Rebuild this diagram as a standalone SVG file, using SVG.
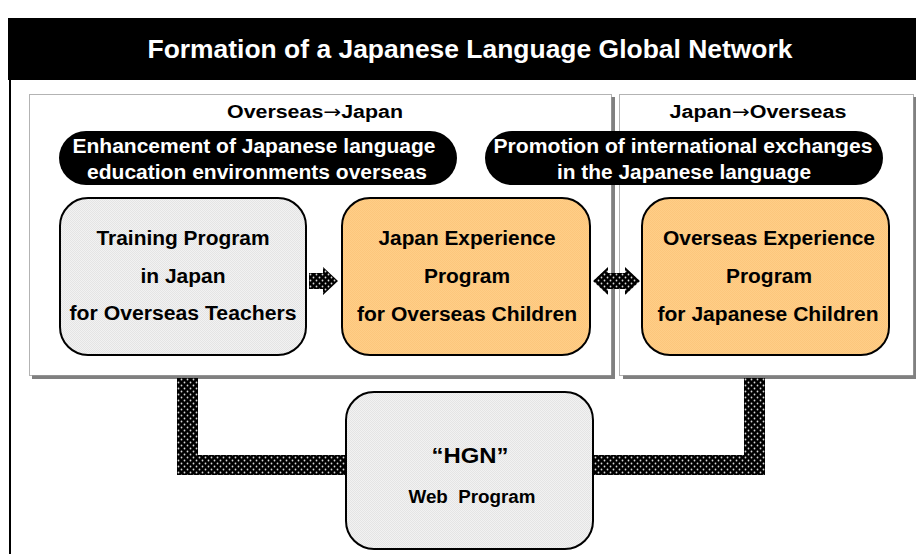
<svg xmlns="http://www.w3.org/2000/svg" width="916" height="554" viewBox="0 0 916 554">
<defs>
<pattern id="dots" width="6" height="6" patternUnits="userSpaceOnUse">
<rect width="6" height="6" fill="#000"/>
<circle cx="1.5" cy="1.5" r="0.9" fill="#d8d8d8"/>
<circle cx="4.5" cy="4.5" r="0.9" fill="#d8d8d8"/>
</pattern>
<pattern id="grayfill" width="2" height="2" patternUnits="userSpaceOnUse">
<rect width="2" height="2" fill="#f2f2f2"/>
<rect width="1" height="1" fill="#e4e4e4"/>
<rect x="1" y="1" width="1" height="1" fill="#e4e4e4"/>
</pattern>
<pattern id="orangefill" width="2" height="2" patternUnits="userSpaceOnUse">
<rect width="2" height="2" fill="#ffce87"/>
<rect width="1" height="1" fill="#fcc67c"/>
<rect x="1" y="1" width="1" height="1" fill="#fcc67c"/>
</pattern>
</defs>
<style>
text{font-family:"Liberation Sans",Arial,sans-serif;font-weight:bold;text-anchor:middle}
.arr{font-family:"DejaVu Sans",sans-serif;font-weight:normal}
.title{font-size:26px;fill:#fff}
.head{font-size:18px;fill:#000}
.pill{font-size:20px;fill:#fff}
.box{font-size:20px;fill:#000}
.panel{fill:#fff;stroke:#666;stroke-width:1;stroke-dasharray:1 1}
.shadow{fill:#808080}
.gray{fill:url(#grayfill);stroke:#000;stroke-width:2}
.orange{fill:url(#orangefill);stroke:#000;stroke-width:2}
.pat{fill:url(#dots)}
</style>
<rect width="916" height="554" fill="#fff"/>
<g id="frame">
<rect x="8" y="18" width="908" height="62" fill="#000"/>
<rect x="9" y="80" width="2" height="474" fill="#000"/>
<text class="title" x="470" y="58" textLength="645" lengthAdjust="spacingAndGlyphs">Formation of a Japanese Language Global Network</text>
</g>
<g id="panel-left">
<rect class="shadow" x="32" y="97" width="583" height="282"/>
<rect class="panel" x="29.5" y="94.5" width="582" height="281"/>
<text class="head" x="315" y="118" textLength="176" lengthAdjust="spacingAndGlyphs">Overseas<tspan class="arr">→</tspan>Japan</text>
</g>
<g id="panel-right">
<rect class="shadow" x="623" y="97" width="293" height="282"/>
<rect class="panel" x="619.5" y="94.5" width="294" height="281"/>
<text class="head" x="758" y="118" textLength="177" lengthAdjust="spacingAndGlyphs">Japan<tspan class="arr">→</tspan>Overseas</text>
</g>
<g id="connectors">
<rect class="pat" x="177" y="378" width="21" height="97"/>
<rect class="pat" x="177" y="455" width="170" height="20"/>
<rect class="pat" x="744" y="378" width="21" height="97"/>
<rect class="pat" x="592" y="455" width="173" height="20"/>
<path class="pat" d="M309,273 H323 V267 L338,281 L323,295 V289 H309 Z"/>
<path class="pat" d="M593,281 L608,267 V273 H625 V267 L640,281 L625,295 V289 H608 V295 Z"/>
</g>
<g id="pill-enhancement">
<rect x="59" y="131" width="398" height="54" rx="27" fill="#000"/>
<text class="pill" x="254" y="153" textLength="363" lengthAdjust="spacingAndGlyphs">Enhancement of Japanese language</text>
<text class="pill" x="257" y="179" textLength="340" lengthAdjust="spacingAndGlyphs">education environments overseas</text>
</g>
<g id="pill-promotion">
<rect x="485" y="131" width="398" height="54" rx="27" fill="#000"/>
<text class="pill" x="683" y="153" textLength="379" lengthAdjust="spacingAndGlyphs">Promotion of international exchanges</text>
<text class="pill" x="684" y="179" textLength="254" lengthAdjust="spacingAndGlyphs">in the Japanese language</text>
</g>
<g id="training">
<rect class="gray" x="60" y="198" width="246" height="157" rx="28"/>
<text class="box" x="183" y="245" textLength="173" lengthAdjust="spacingAndGlyphs">Training Program</text>
<text class="box" x="183" y="283" textLength="85" lengthAdjust="spacingAndGlyphs">in Japan</text>
<text class="box" x="183" y="320" textLength="227" lengthAdjust="spacingAndGlyphs">for Overseas Teachers</text>
</g>
<g id="japan-experience">
<rect class="orange" x="342" y="198" width="248" height="157" rx="28"/>
<text class="box" x="467" y="245" textLength="177" lengthAdjust="spacingAndGlyphs">Japan Experience</text>
<text class="box" x="467" y="283" textLength="86" lengthAdjust="spacingAndGlyphs">Program</text>
<text class="box" x="467" y="321" textLength="220" lengthAdjust="spacingAndGlyphs">for Overseas Children</text>
</g>
<g id="overseas-experience">
<rect class="orange" x="642" y="198" width="247" height="157" rx="28"/>
<text class="box" x="769" y="245" textLength="212" lengthAdjust="spacingAndGlyphs">Overseas Experience</text>
<text class="box" x="769" y="283" textLength="86" lengthAdjust="spacingAndGlyphs">Program</text>
<text class="box" x="768" y="321" textLength="221" lengthAdjust="spacingAndGlyphs">for Japanese Children</text>
</g>
<g id="hgn">
<rect class="gray" x="346" y="392" width="247" height="157" rx="28"/>
<text x="470" y="463" style="font-size:22px" textLength="77" lengthAdjust="spacingAndGlyphs">“HGN”</text>
<text x="472" y="503" style="font-size:18px;white-space:pre" textLength="127" lengthAdjust="spacingAndGlyphs">Web  Program</text>
</g>
</svg>
